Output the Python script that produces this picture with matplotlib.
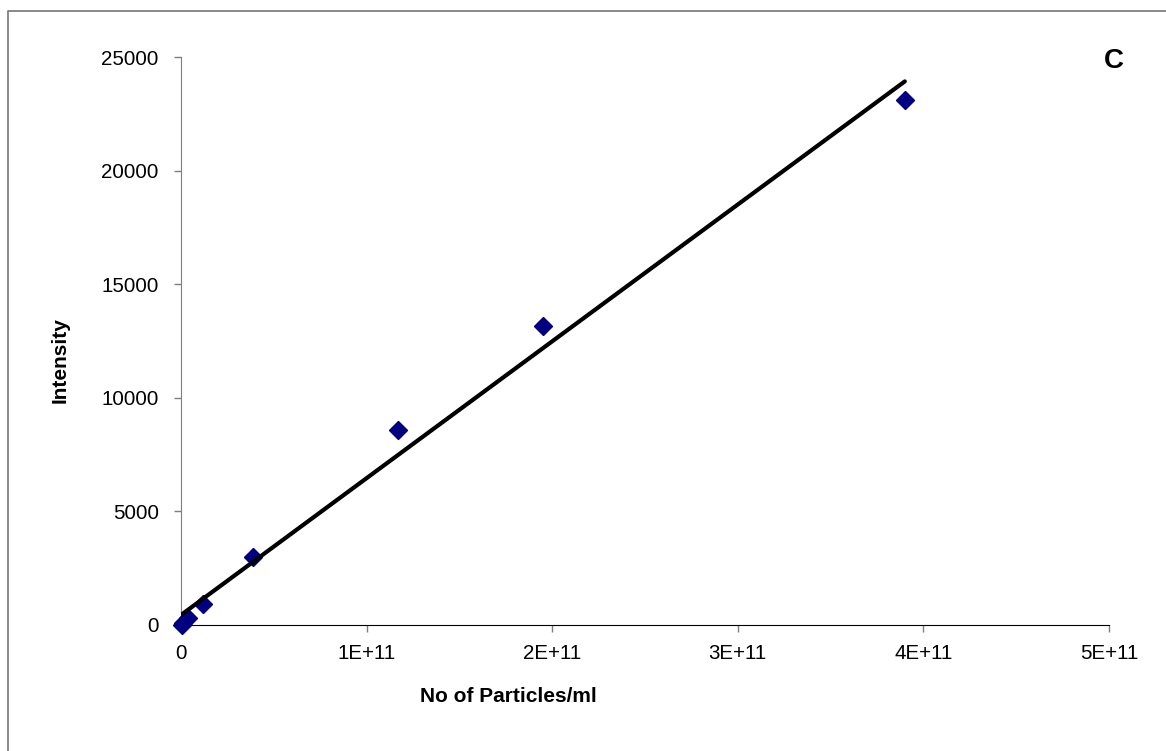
import matplotlib
matplotlib.use("Agg")
import matplotlib.pyplot as plt
from matplotlib.lines import Line2D
import numpy as np

plt.rcParams['font.family'] = ['Liberation Sans', 'DejaVu Sans']

# calibration data: particle concentration vs measured intensity
particles = [3.9e11, 1.95e11, 1.17e11, 3.9e10, 1.2e10, 3.9e9, 1.2e9, 3.9e8]
intensity = [23100, 13150, 8600, 3000, 920, 300, 100, 20]

x_ticks = [0, 1e11, 2e11, 3e11, 4e11, 5e11]
x_labels = ["0", "1E+11", "2E+11", "3E+11", "4E+11", "5E+11"]
y_ticks = [0, 5000, 10000, 15000, 20000, 25000]

fig = plt.figure(figsize=(11.66, 7.51), dpi=100)
fig.patch.set_facecolor('white')
ax = fig.add_axes([0.1552, 0.1678, 0.7959, 0.7563])

ax.plot(particles, intensity, linestyle='none', marker='D', markersize=9.5,
        color='#000080', zorder=3, clip_on=False)

# least-squares trend line over the data range
slope, icpt = np.polyfit(particles, intensity, 1)
xs = np.array([0, max(particles)])
ax.plot(xs, slope * xs + icpt, color='black', linewidth=3,
        solid_capstyle='round', zorder=4)

ax.set_xlim(0, 5e11)
ax.set_ylim(0, 25000)
ax.set_xticks(x_ticks)
ax.set_xticklabels(x_labels)
ax.set_yticks(y_ticks)

for side in ('top', 'right'):
    ax.spines[side].set_visible(False)
ax.spines['left'].set_color('#7f7f7f')
ax.spines['bottom'].set_color('black')
ax.tick_params(axis='x', direction='out', length=5, width=1, color='#7f7f7f',
               labelsize=14.8, pad=9)
ax.tick_params(axis='y', direction='out', length=5, width=1, color='#7f7f7f',
               labelsize=14.8, pad=11)

fig.text(508 / 1166, 1 - 696 / 751, "No of Particles/ml", ha='center',
         va='center', fontsize=15, fontweight='bold')
fig.text(60 / 1166, 1 - 360 / 751, "Intensity", ha='center', va='center',
         rotation=90, fontsize=15, fontweight='bold')
fig.text(1114 / 1166, 1 - 61 / 751, "C", ha='center', va='center',
         fontsize=20, fontweight='bold')

# chart frame (left and top edges)
fig.add_artist(Line2D([8 / 1166, 8 / 1166, 1.0], [0.0, 1 - 11 / 751, 1 - 11 / 751],
                      color='#808080', linewidth=1.3, transform=fig.transFigure))

fig.savefig("out.png", dpi=100, facecolor='white')
